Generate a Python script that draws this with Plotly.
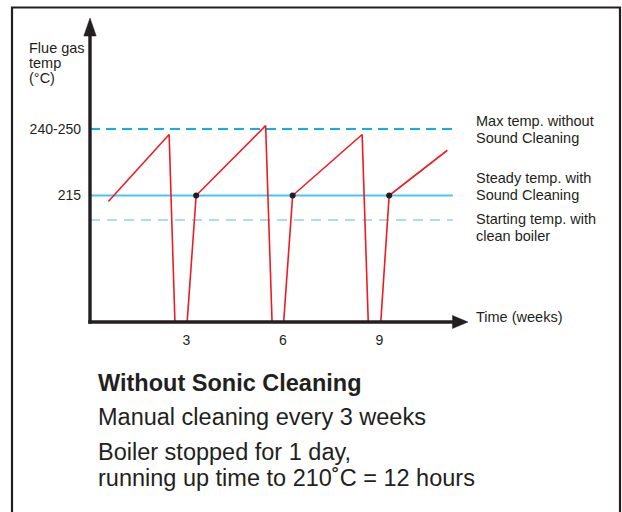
import plotly.graph_objects as go

# ---------------- data ----------------
weeks = [0.57, 2.46, 2.64, 3.02, 3.30, 5.46, 5.66, 6.02, 6.30, 8.46, 8.65, 9.04, 9.30, 11.11]
flue_temp = [212.3, 242.5, 158, 158, 215, 246.5, 158, 158, 215, 242.5, 158, 158, 215, 235.4]
clean_weeks = [3.30, 6.30, 9.30]
clean_temp = [215, 215, 215]
ref_x = [0, 11.28]
max_temp = 245        # 240-250
steady_temp = 215
start_temp = 204
x_tickvals = [3, 6, 9]
x_ticktext = ["3", "6", "9"]
y_tickvals = [245, 215]
y_ticktext = ["240-250", "215"]

W, H = 622, 512
L, R, T, B = 90, 155, 18, 190
PW, PH = W - L - R, H - T - B

def px(x):
    return (x - L) / PW

def py(y):
    return (H - B - y) / PH

INK = "#231f20"
FONT = "Liberation Sans, Arial, Helvetica, sans-serif"

fig = go.Figure()
fig.add_trace(go.Scatter(x=ref_x, y=[max_temp] * 2, mode="lines",
                         line=dict(color="#12aee8", width=2, dash="10px,6px"),
                         hoverinfo="skip", showlegend=False))
fig.add_trace(go.Scatter(x=ref_x, y=[steady_temp] * 2, mode="lines",
                         line=dict(color="#4fc3ef", width=2),
                         hoverinfo="skip", showlegend=False))
fig.add_trace(go.Scatter(x=ref_x, y=[start_temp] * 2, mode="lines",
                         line=dict(color="#aadcf5", width=2, dash="10px,7px"),
                         hoverinfo="skip", showlegend=False))
fig.add_trace(go.Scatter(x=weeks, y=flue_temp, mode="lines",
                         line=dict(color="#ec1c24", width=1.6),
                         showlegend=False))
fig.add_trace(go.Scatter(x=clean_weeks, y=clean_temp, mode="markers",
                         marker=dict(color=INK, size=6),
                         showlegend=False))

shapes = [
    # outer frame
    dict(type="rect", xref="paper", yref="paper",
         x0=px(12), x1=px(620), y0=py(540), y1=py(7.5),
         line=dict(color=INK, width=2.2), fillcolor="rgba(0,0,0,0)"),
    # axes
    dict(type="line", xref="paper", yref="paper",
         x0=px(90), x1=px(90), y0=py(323.7), y1=py(30),
         line=dict(color=INK, width=3.4)),
    dict(type="line", xref="paper", yref="paper",
         x0=px(88.3), x1=px(456), y0=py(322), y1=py(322),
         line=dict(color=INK, width=3.4)),
    # arrow heads
    dict(type="path", xref="paper", yref="paper",
         path=f"M {px(90)} {py(18)} L {px(83.8)} {py(36)} L {px(96.2)} {py(36)} Z",
         line=dict(color=INK, width=0.5), fillcolor=INK),
    dict(type="path", xref="paper", yref="paper",
         path=f"M {px(468)} {py(322)} L {px(452.5)} {py(315.5)} L {px(452.5)} {py(328.5)} Z",
         line=dict(color=INK, width=0.5), fillcolor=INK),
]

ann = []
def text(x, y, s, size=14.5, bold=False, anchor="left"):
    ann.append(dict(xref="paper", yref="paper", x=px(x), y=py(y), text=(f"<b>{s}</b>" if bold else s),
                    showarrow=False, xanchor=anchor, yanchor="middle",
                    font=dict(family=FONT, size=size, color=INK)))

text(27, 48, "Flue gas")
text(27, 62.5, "temp")
text(27, 77.5, "(°C)")
text(474, 121, "Max temp. without")
text(474, 138, "Sound Cleaning")
text(474, 178, "Steady temp. with")
text(474, 195, "Sound Cleaning")
text(474, 218.5, "Starting temp. with")
text(474, 235.5, "clean boiler")
text(474, 317, "Time (weeks)")
text(96, 383, "Without Sonic Cleaning", size=23.5, bold=True)
text(96, 416.5, "Manual cleaning every 3 weeks", size=23.5)
text(96, 451.5, "Boiler stopped for 1 day,", size=23.5)
text(96, 478, "running up time to 210˚C = 12 hours", size=23.5)

fig.update_layout(
    width=W, height=H,
    margin=dict(l=L, r=R, t=T, b=B),
    paper_bgcolor="white", plot_bgcolor="white",
    shapes=shapes, annotations=ann,
    xaxis=dict(range=[0, 11.72], showgrid=False, zeroline=False, showline=False,
               tickvals=x_tickvals, ticktext=x_ticktext, ticks="",
               tickfont=dict(family=FONT, size=14, color=INK), ticklabelstandoff=8),
    yaxis=dict(range=[158, 295], showgrid=False, zeroline=False, showline=False,
               tickvals=y_tickvals, ticktext=y_ticktext, ticks="",
               tickfont=dict(family=FONT, size=14, color=INK), ticklabelstandoff=8),
)

# remove the default page margin so the figure sits at the window's top-left corner
fig.write_html("out.html",
               config={"displayModeBar": False},
               post_script="document.body.style.margin='0';document.body.style.overflow='hidden';")
